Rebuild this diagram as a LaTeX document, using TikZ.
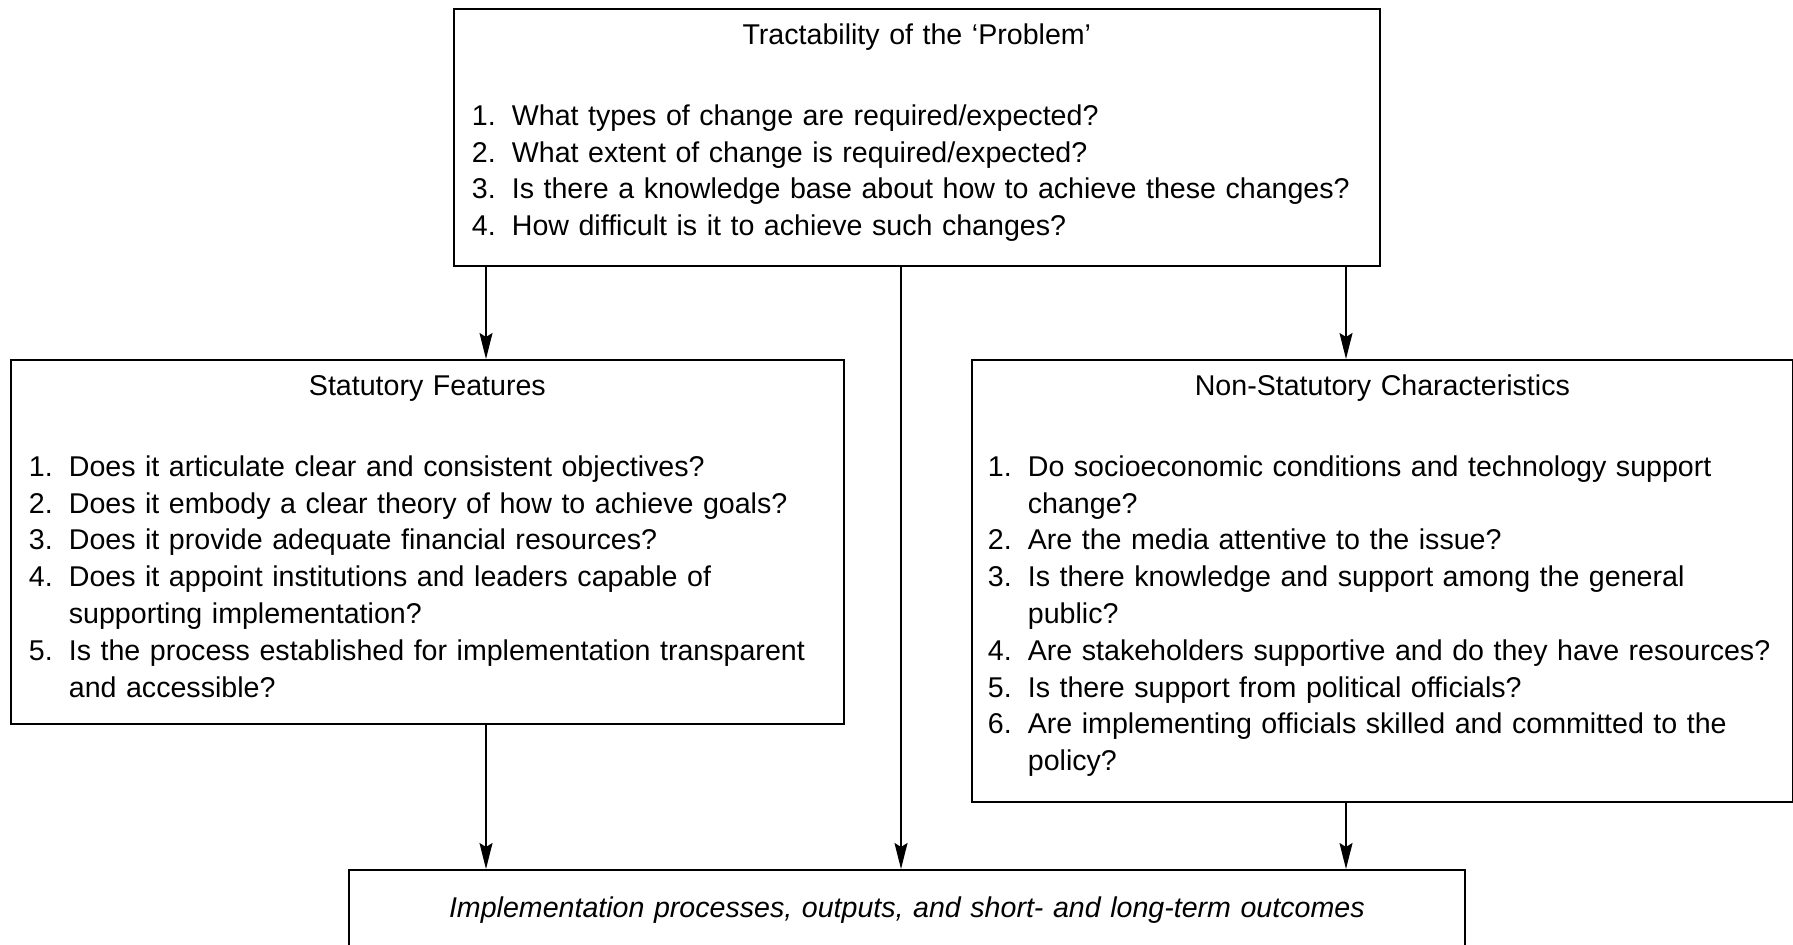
\documentclass[tikz,border=0pt]{standalone}
\usepackage{fontspec}
\setmainfont{Liberation Sans}
\usetikzlibrary{arrows.meta}

\newlength{\qlabw}
\newenvironment{qlist}{%
  \begin{list}{\arabic{enumi}.}{\usecounter{enumi}%
    \settowidth{\qlabw}{1.}%
    \setlength{\leftmargin}{21pt}\setlength{\labelwidth}{\qlabw}%
    \setlength{\labelsep}{\dimexpr 20pt-\qlabw\relax}%
    \setlength{\topsep}{0pt}\setlength{\partopsep}{0pt}%
    \setlength{\itemsep}{0pt}\setlength{\parsep}{0pt}}}%
  {\end{list}}
\newcommand{\boxtitle}[1]{{\centering\rule{0pt}{17.8pt}#1\par}\vspace{22pt}}
\newcommand{\boxend}[1]{\rule[-#1]{0pt}{0pt}}

\begin{document}
\begin{tikzpicture}[x=0.5pt,y=-0.5pt,line width=0.85pt,
  box/.style={draw,anchor=north west,align=left,inner xsep=8pt,inner ysep=0pt,
    font=\fontsize{14.3pt}{18.4pt}\selectfont},
  arr/.style={-{Stealth[length=13pt,width=6.5pt,inset=2pt]}}]
  \useasboundingbox (0,0) rectangle (1793,945);

  \node[box,text width=447pt] (prob) at (453,8) {\boxtitle{Tractability of the ‘Problem’}
    \begin{qlist}
    \item What types of change are required/expected?
    \item What extent of change is required/expected?
    \item Is there a knowledge base about how to achieve these changes?
    \item How difficult is it to achieve such changes?\boxend{15.1pt}
    \end{qlist}};

  \node[box,text width=400.5pt] (stat) at (10,359) {\boxtitle{Statutory Features}
    \begin{qlist}
    \item Does it articulate clear and consistent objectives?
    \item Does it embody a clear theory of how to achieve goals?
    \item Does it provide adequate financial resources?
    \item Does it appoint institutions and leaders capable of\newline supporting implementation?
    \item Is the process established for implementation transparent\newline and accessible?\boxend{13.4pt}
    \end{qlist}};

  \node[box,inner xsep=7pt,text width=396.5pt] (nons) at (971,359) {\boxtitle{Non-Statutory Characteristics}
    \begin{qlist}
    \item Do socioeconomic conditions and technology support\newline change?
    \item Are the media attentive to the issue?
    \item Is there knowledge and support among the general\newline public?
    \item Are stakeholders supportive and do they have resources?
    \item Is there support from political officials?
    \item Are implementing officials skilled and committed to the\newline policy?\boxend{15.6pt}
    \end{qlist}};

  \node[box,text width=542pt,align=center] (outc) at (348,869)
    {\rule[-15pt]{0pt}{39pt}\textit{Implementation processes, outputs, and short- and long-term outcomes}};

  \coordinate (xl) at (486,0);
  \coordinate (xm) at (901,0);
  \coordinate (xr) at (1346,0);

  \draw[arr] (prob.south -| xl) -- (stat.north -| xl);
  \draw[arr] (prob.south -| xm) -- (outc.north -| xm);
  \draw[arr] (prob.south -| xr) -- (nons.north -| xr);
  \draw[arr] (stat.south -| xl) -- (outc.north -| xl);
  \draw[arr] (nons.south -| xr) -- (outc.north -| xr);
\end{tikzpicture}
\end{document}
